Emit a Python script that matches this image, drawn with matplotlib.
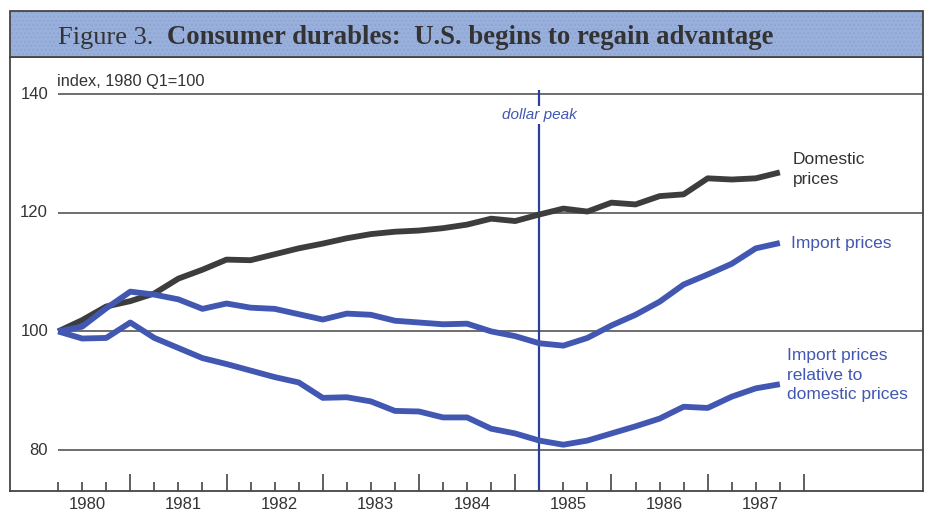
import numpy as np
import matplotlib
matplotlib.use('Agg')
import matplotlib.pyplot as plt
from matplotlib.patches import Rectangle

# Quarterly index values, 1980 Q1 .. 1987 Q3 (1980 Q1 = 100)
quarters = np.arange(31)
domestic = [100.0, 101.9, 104.2, 105.1, 106.4, 108.9, 110.4, 112.1, 112.0, 113.0,
            114.0, 114.8, 115.7, 116.4, 116.8, 117.0, 117.4, 118.0, 119.0, 118.6,
            119.7, 120.7, 120.2, 121.7, 121.4, 122.8, 123.1, 125.8, 125.6, 125.8,
            126.8]
imports = [100.0, 100.8, 103.9, 106.7, 106.2, 105.4, 103.8, 104.7, 104.0, 103.8,
           102.9, 102.0, 103.0, 102.8, 101.8, 101.5, 101.2, 101.3, 100.0, 99.2,
           98.0, 97.6, 98.9, 101.0, 102.8, 105.0, 107.9, 109.6, 111.4, 114.0,
           114.9]
relative = [100.0, 98.8, 98.9, 101.5, 98.9, 97.2, 95.5, 94.5, 93.4, 92.3,
            91.4, 88.8, 88.9, 88.2, 86.6, 86.5, 85.5, 85.5, 83.6, 82.8,
            81.6, 80.9, 81.6, 82.8, 84.0, 85.3, 87.3, 87.1, 89.0, 90.4,
            91.1]
years = ['1980', '1981', '1982', '1983', '1984', '1985', '1986', '1987']
yticks = [80, 100, 120, 140]
peak_quarter = 20  # 1985 Q1

GRAY = '#3d3d3d'
BLUE = '#4257b2'
TEXT = '#333333'

W, H = 931, 513
fig = plt.figure(figsize=(W / 100, H / 100), dpi=100)

# axes box in pixels: x 10..923, y 57..491
ax = fig.add_axes([10 / W, (H - 491) / H, 913 / W, 434 / H])
ax.set_xlim(-2.0, 35.95)
ax.set_ylim(73.1, 146.25)

for s in ax.spines.values():
    s.set_color('#444444')
    s.set_linewidth(1.3)

# grid lines
ax.hlines(yticks, 0, 35.95, color='#555555', lw=1.2, zorder=1)
for v in yticks:
    ax.text(-0.42, v, str(v), ha='right', va='center', fontsize=12,
            family='Liberation Sans', color=TEXT)
ax.text(-0.05, 142.1, 'index, 1980 Q1=100', ha='left', va='center', fontsize=11.8,
        family='Liberation Sans', color=TEXT)

# quarter ticks, longer at Q4
q4 = [q for q in range(32) if q % 4 == 3]
others = [q for q in range(32) if q % 4 != 3]
ax.set_yticks([])
ax.set_xticks(q4)
ax.set_xticks(others, minor=True)
ax.set_xticklabels([])
ax.tick_params(axis='x', which='major', direction='in', length=12.5, width=1.2, color='#444444')
ax.tick_params(axis='x', which='minor', direction='in', length=6.5, width=1.2, color='#444444')
for i, yr in enumerate(years):
    ax.text(i * 4 + 1.2, -0.032, yr, transform=ax.get_xaxis_transform(),
            ha='center', va='center', fontsize=12, family='Liberation Sans',
            color=TEXT, clip_on=False)

# series
ax.plot(quarters, domestic, color=GRAY, lw=4.2, solid_capstyle='butt', zorder=3)
ax.plot(quarters, imports, color=BLUE, lw=4.2, solid_capstyle='butt', zorder=3)
ax.plot(quarters, relative, color=BLUE, lw=4.2, solid_capstyle='butt', zorder=3)

# dollar peak
ax.vlines(peak_quarter, 73.1, 140.7, color='#2b3f9e', lw=1.6, zorder=2)
ax.text(peak_quarter, 136.5, 'dollar peak', ha='center', va='center', fontsize=11,
        style='italic', family='Liberation Sans', color=BLUE, zorder=4,
        bbox=dict(facecolor='white', edgecolor='none', pad=1.5))

# series labels
lab = dict(ha='left', va='center', fontsize=12.5, family='Liberation Sans', linespacing=1.38)
ax.text(30.55, 127.3, 'Domestic\nprices', color=TEXT, **lab)
ax.text(30.45, 114.8, 'Import prices', color=BLUE, **lab)
ax.text(30.3, 92.6, 'Import prices\nrelative to\ndomestic prices', color=BLUE, **lab)

# title banner
fig.patches.append(Rectangle((10 / W, (H - 57) / H), 913 / W, 46 / H,
                             transform=fig.transFigure, facecolor='#9ab0dc',
                             edgecolor='#8ea4d2', hatch='....', lw=0, zorder=0))
fig.patches.append(Rectangle((10 / W, (H - 57) / H), 913 / W, 46 / H,
                             transform=fig.transFigure, facecolor='none',
                             edgecolor='#444444', lw=1.3, zorder=1))
fig.text(58 / W, (H - 44) / H, 'Figure 3.', ha='left', va='baseline', fontsize=19,
         family='Liberation Serif', color=TEXT)
fig.text(167 / W, (H - 44) / H, 'Consumer durables:  U.S. begins to regain advantage',
         ha='left', va='baseline', fontsize=19.3, fontweight='bold',
         family='Liberation Serif', color=TEXT)

fig.savefig('out.png', dpi=100)
